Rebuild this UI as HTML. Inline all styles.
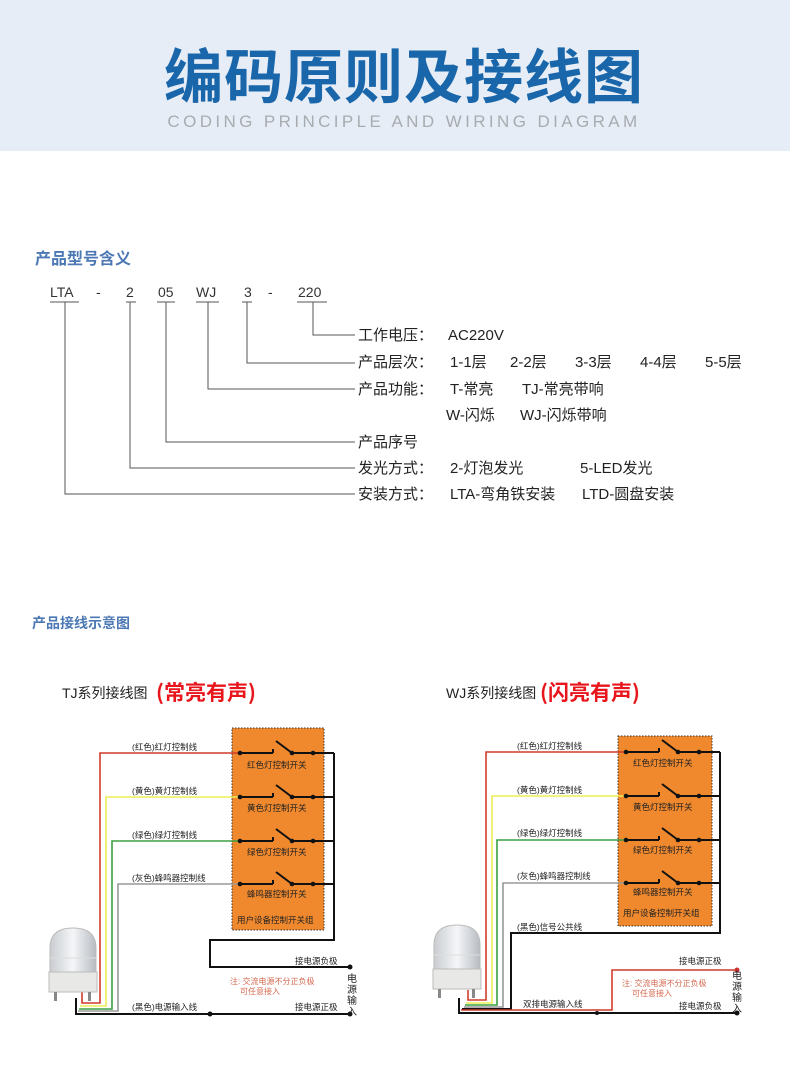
<!DOCTYPE html>
<html><head><meta charset="utf-8"><style>
body{margin:0;width:790px;height:1087px;background:#fff;overflow:hidden;font-family:"Liberation Sans","Noto Sans CJK SC",sans-serif}
</style></head><body>
<svg width="790" height="1087" xmlns="http://www.w3.org/2000/svg" font-family="Liberation Sans, Noto Sans CJK SC, sans-serif">
<defs>
<g id="sw">
<circle cx="8" cy="0" r="2.3" fill="#111"/>
<line x1="8" y1="0" x2="41" y2="0" stroke="#111" stroke-width="2"/>
<line x1="41" y1="-4" x2="41" y2="0" stroke="#111" stroke-width="2"/>
<line x1="44" y1="-12" x2="60" y2="0" stroke="#111" stroke-width="2"/>
<circle cx="60" cy="0" r="2.3" fill="#111"/>
<circle cx="81" cy="0" r="2.3" fill="#111"/>
<line x1="60" y1="0" x2="102" y2="0" stroke="#111" stroke-width="2"/>
</g>
<linearGradient id="lamp" x1="0" x2="1"><stop offset="0" stop-color="#c9ccd0"/><stop offset="0.5" stop-color="#f4f6f8"/><stop offset="1" stop-color="#b8bcc2"/></linearGradient>
<g id="dev">
<path d="M2 20 Q2 0 25 0 Q48 0 48 20 L48 44 L2 44 Z" fill="url(#lamp)" stroke="#bbb"/>
<line x1="2" y1="30" x2="48" y2="30" stroke="#ddd"/>
<rect x="1" y="44" width="48" height="20" fill="#e8e8e6" stroke="#bbb"/>
<rect x="6" y="64" width="3" height="9" fill="#888"/><rect x="40" y="64" width="3" height="9" fill="#888"/>
</g>
</defs>
<rect x="0" y="0" width="790" height="151" fill="#e6edf6"/>
<text x="404" y="98" text-anchor="middle" font-size="59" font-weight="bold" fill="#1a66aa" font-family="Noto Sans CJK SC, sans-serif" letter-spacing="1">编码原则及接线图</text>
<text x="404" y="127" text-anchor="middle" font-size="17" fill="#a8acb0" letter-spacing="3.4">CODING PRINCIPLE AND WIRING DIAGRAM</text>

<text x="35" y="264" font-size="16" font-weight="bold" fill="#4c78b4" font-family="Noto Sans CJK SC, sans-serif">产品型号含义</text>
<g font-size="14" fill="#333">
<text x="50" y="297">LTA</text><text x="96" y="297">-</text><text x="126" y="297">2</text><text x="158" y="297">05</text><text x="196" y="297">WJ</text><text x="244" y="297">3</text><text x="268" y="297">-</text><text x="298" y="297">220</text>
</g>
<g stroke="#555" stroke-width="1" fill="none">
<path d="M50 302H79M126 302H136M157 302H175M196 302H219M242 302H252M297 302H327"/>
<path d="M65 302V494H355M130 302V468H355M166 302V442H355M208 302V389H355M247 302V363H355M313 302V335H355"/>
</g>
<g font-size="15" fill="#222" font-family="Liberation Sans, Noto Sans CJK SC, sans-serif">
<text x="358" y="340">工作电压：</text><text x="448" y="340">AC220V</text>
<text x="358" y="367">产品层次：</text><text x="450" y="367">1-1层</text><text x="510" y="367">2-2层</text><text x="575" y="367">3-3层</text><text x="640" y="367">4-4层</text><text x="705" y="367">5-5层</text>
<text x="358" y="394">产品功能：</text><text x="450" y="394">T-常亮</text><text x="522" y="394">TJ-常亮带响</text>
<text x="446" y="420">W-闪烁</text><text x="520" y="420">WJ-闪烁带响</text>
<text x="358" y="447">产品序号</text>
<text x="358" y="473">发光方式：</text><text x="450" y="473">2-灯泡发光</text><text x="580" y="473">5-LED发光</text>
<text x="358" y="499">安装方式：</text><text x="450" y="499">LTA-弯角铁安装</text><text x="582" y="499">LTD-圆盘安装</text>
</g>
<text x="32" y="628" font-size="14" font-weight="bold" fill="#4c78b4" font-family="Noto Sans CJK SC, sans-serif">产品接线示意图</text>

<text x="62" y="698" font-size="14" fill="#222">TJ系列接线图</text>
<text x="156" y="700" font-size="21" font-weight="bold" fill="#e8161c" font-family="Noto Sans CJK SC, sans-serif">(常亮有声)</text>
<text x="446" y="698" font-size="14" fill="#222">WJ系列接线图</text>
<text x="540" y="700" font-size="21" font-weight="bold" fill="#e8161c" font-family="Noto Sans CJK SC, sans-serif">(闪亮有声)</text>

<!-- LEFT -->
<rect x="232" y="728" width="92" height="202" fill="#f0892e" stroke="#333" stroke-dasharray="1.5 1.5"/>
<g fill="none" stroke-width="1.6">
<path d="M240 753H100V1003H82V985" stroke="#d23b2b"/>
<path d="M240 797H106V1006H80" stroke="#eded55"/>
<path d="M240 841H112V1009H79" stroke="#3aa043"/>
<path d="M240 884H118V1011H78" stroke="#999"/>
<path d="M76 998V1014H350" stroke="#111" stroke-width="2"/>
<path d="M334 753V940H210V967H350" stroke="#111" stroke-width="2"/>
</g>
<use href="#sw" x="232" y="753"/><use href="#sw" x="232" y="797"/><use href="#sw" x="232" y="841"/><use href="#sw" x="232" y="884"/>
<circle cx="350" cy="967" r="2.5" fill="#111"/><circle cx="350" cy="1014" r="2.5" fill="#111"/><circle cx="210" cy="1014" r="2.5" fill="#111"/>
<use href="#dev" x="48" y="928"/>
<g font-size="8.5" fill="#222">
<text x="132" y="750">(红色)红灯控制线</text><text x="132" y="794">(黄色)黄灯控制线</text><text x="132" y="838">(绿色)绿灯控制线</text><text x="132" y="881">(灰色)蜂鸣器控制线</text>
<text x="132" y="1010">(黑色)电源输入线</text>
<text x="247" y="768">红色灯控制开关</text><text x="247" y="811">黄色灯控制开关</text><text x="247" y="855">绿色灯控制开关</text><text x="247" y="897">蜂鸣器控制开关</text>
<text x="237" y="923">用户设备控制开关组</text>
<text x="295" y="964">接电源负极</text><text x="295" y="1010">接电源正极</text>
</g>
<g font-size="8" fill="#d46a50"><text x="230" y="984">注: 交流电源不分正负极</text><text x="240" y="994">可任意接入</text></g>
<g font-size="10" fill="#222"><text x="347" y="982">电</text><text x="347" y="993">源</text><text x="347" y="1004">输</text><text x="347" y="1015">入</text></g>

<!-- RIGHT -->
<rect x="618" y="736" width="94" height="190" fill="#f0892e" stroke="#333" stroke-dasharray="1.5 1.5"/>
<g fill="none" stroke-width="1.6">
<path d="M626 752H486V1000H468V990" stroke="#d23b2b"/>
<path d="M626 796H492V1003H466" stroke="#eded55"/>
<path d="M626 840H497V1005H465" stroke="#3aa043"/>
<path d="M626 883H503V1007H464" stroke="#999"/>
<path d="M720 752V933H511V1009H462" stroke="#111" stroke-width="2"/>
<path d="M459 998V1013H737" stroke="#111" stroke-width="2"/>
<path d="M461 1010H612V970H737" stroke="#d23b2b" stroke-width="1.6"/>
</g>
<use href="#sw" x="618" y="752"/><use href="#sw" x="618" y="796"/><use href="#sw" x="618" y="840"/><use href="#sw" x="618" y="883"/>
<circle cx="737" cy="970" r="2.5" fill="#c33"/><circle cx="737" cy="1013" r="2.5" fill="#111"/><circle cx="597" cy="1013" r="2" fill="#111"/>
<use href="#dev" x="432" y="925"/>
<g font-size="8.5" fill="#222">
<text x="517" y="749">(红色)红灯控制线</text><text x="517" y="793">(黄色)黄灯控制线</text><text x="517" y="836">(绿色)绿灯控制线</text><text x="517" y="879">(灰色)蜂鸣器控制线</text>
<text x="517" y="930">(黑色)信号公共线</text>
<text x="523" y="1007">双排电源输入线</text>
<text x="633" y="766">红色灯控制开关</text><text x="633" y="810">黄色灯控制开关</text><text x="633" y="853">绿色灯控制开关</text><text x="633" y="895">蜂鸣器控制开关</text>
<text x="623" y="916">用户设备控制开关组</text>
<text x="679" y="964">接电源正极</text><text x="679" y="1009">接电源负极</text>
</g>
<g font-size="8" fill="#d46a50"><text x="622" y="986">注: 交流电源不分正负极</text><text x="632" y="996">可任意接入</text></g>
<g font-size="10" fill="#222"><text x="732" y="979">电</text><text x="732" y="990">源</text><text x="732" y="1001">输</text><text x="732" y="1012">入</text></g>
</svg>
</body></html>
